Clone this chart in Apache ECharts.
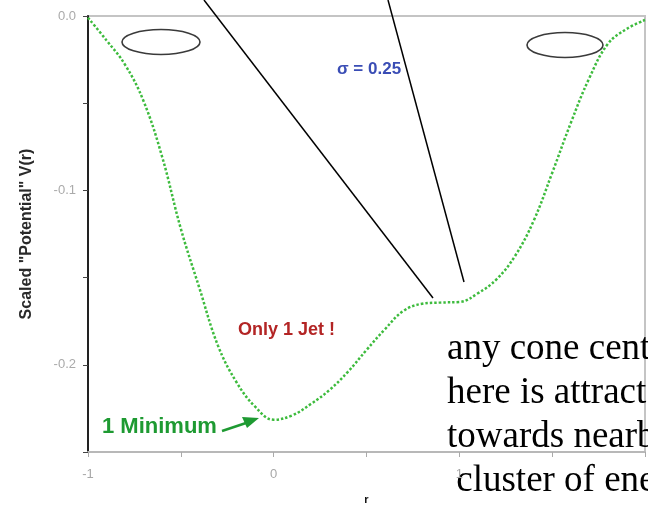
<!DOCTYPE html>
<html>
<head>
<meta charset="utf-8">
<script src="https://cdn.jsdelivr.net/npm/echarts@6/dist/echarts.min.js"></script>
<style>
html,body{margin:0;padding:0;background:#fff;}
#chart{width:648px;height:507px;}
</style>
</head>
<body>
<div id="chart"></div>
<script>
// r positions (scaled distance) and scaled potential V(r)
var rValues = [-1.0,-0.9,-0.8,-0.7,-0.6,-0.5,-0.4,-0.3,-0.2,-0.1,0.0,0.1,0.2,0.3,0.4,0.5,0.6,0.7,0.8,0.9,1.0,1.1,1.2,1.3,1.4,1.5,1.6,1.7,1.8,1.9,2.0];
var potential = [-0.001,-0.014,-0.028,-0.049,-0.081,-0.122,-0.156,-0.189,-0.210,-0.224,-0.2315,-0.229,-0.2225,-0.2145,-0.204,-0.1915,-0.1795,-0.169,-0.165,-0.1643,-0.164,-0.159,-0.151,-0.1376,-0.1175,-0.090,-0.0614,-0.0356,-0.016,-0.0075,-0.0023];
var xTickLabels = ['-1','0','1'];
var yTickLabels = ['0.0','-0.1','-0.2'];
var textBoxLines = ['any cone cent','here is attract','towards nearb',' cluster of ene'];

var seriesData = rValues.map(function(r,i){return [r, potential[i]];});

var chart = echarts.init(document.getElementById('chart'));
var graphics = [
  {type:'ellipse', shape:{cx:161,cy:42,rx:39,ry:12.5}, style:{fill:'none',stroke:'#3a3a3a',lineWidth:1.6}},
  {type:'ellipse', shape:{cx:565,cy:45,rx:38,ry:12.5}, style:{fill:'none',stroke:'#3a3a3a',lineWidth:1.6}},
  {type:'line', shape:{x1:204,y1:0,x2:433,y2:298}, style:{stroke:'#000',lineWidth:1.5}},
  {type:'line', shape:{x1:388,y1:0,x2:464,y2:282}, style:{stroke:'#000',lineWidth:1.5}},
  {type:'text', x:337, y:69, style:{text:'σ = 0.25', fill:'#3a4db5', font:'bold 17px "Liberation Sans", Arial, sans-serif', verticalAlign:'middle'}},
  {type:'text', x:238, y:330, style:{text:'Only 1 Jet !', fill:'#b32525', font:'bold 18px "Liberation Sans", Arial, sans-serif', verticalAlign:'middle'}},
  {type:'text', x:102, y:427, style:{text:'1 Minimum', fill:'#1e9a32', font:'bold 22px "Liberation Sans", Arial, sans-serif', verticalAlign:'middle'}},
  {type:'line', shape:{x1:222,y1:431,x2:246,y2:423}, style:{stroke:'#1e9a32',lineWidth:2.5}},
  {type:'polygon', shape:{points:[[259,418],[242,417],[247,428]]}, style:{fill:'#1e9a32'}}
];
var baselines = [349.5, 393.5, 437.5, 481.5];
textBoxLines.forEach(function(t,i){
  graphics.push({type:'text', x:447, y:baselines[i], style:{text:t, fill:'#000', font:'37px "Liberation Serif", "Times New Roman", serif', verticalAlign:'middle'}});
});

chart.setOption({
  animation:false,
  backgroundColor:'#fff',
  grid:{left:88,right:3,top:16,bottom:55,show:true,borderColor:'#c4c4c4',borderWidth:2,backgroundColor:'transparent',containLabel:false,outerBoundsMode:'none'},
  xAxis:{
    type:'value', min:-1, max:2, interval:0.5,
    name:'r', nameLocation:'middle', nameGap:42,
    nameTextStyle:{color:'#111',fontWeight:'bold',fontSize:11,fontFamily:'"Liberation Sans", Arial, sans-serif'},
    axisLine:{show:true,onZero:false,lineStyle:{color:'#b8b8b8',width:2}},
    axisTick:{show:true,inside:false,length:5,lineStyle:{color:'#aaa'}},
    splitLine:{show:false},
    axisLabel:{color:'#a8a8a8',fontSize:13,margin:16,fontFamily:'"Liberation Sans", Arial, sans-serif',
      formatter:function(v){var k=xTickLabels.indexOf(String(Math.round(v))); return (Math.abs(v-Math.round(v))<1e-6 && k>=0)?xTickLabels[k]:'';}}
  },
  yAxis:{
    type:'value', min:-0.25, max:0, interval:0.05,
    name:'Scaled "Potential" V(r)', nameLocation:'middle', nameGap:53, nameRotate:90,
    nameTextStyle:{color:'#2a2a2a',fontWeight:'bold',fontSize:16,fontFamily:'"Liberation Sans", Arial, sans-serif'},
    axisLine:{show:true,onZero:false,lineStyle:{color:'#222',width:2}},
    axisTick:{show:true,inside:false,length:5,lineStyle:{color:'#444'}},
    splitLine:{show:false},
    axisLabel:{color:'#aaaaaa',fontSize:13,margin:12,fontFamily:'"Liberation Sans", Arial, sans-serif',
      formatter:function(v){var s=v.toFixed(1); return (Math.abs(v*10-Math.round(v*10))<1e-6 && yTickLabels.indexOf(s)>=0)?s:'';}}
  },
  series:[{
    type:'line', data:seriesData, smooth:0.4, showSymbol:false,
    lineStyle:{color:'#3dbb3d',width:2.5,type:[2.5,2]}
  }],
  graphic:graphics
});
</script>
</body>
</html>
